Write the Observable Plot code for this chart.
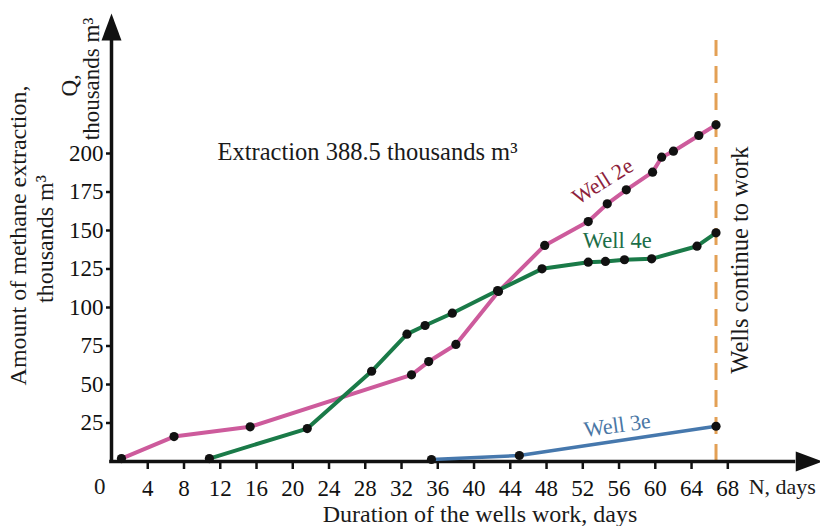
<!DOCTYPE html>
<html>
<head>
<meta charset="utf-8">
<script src="https://cdn.jsdelivr.net/npm/d3@7"></script>
<script src="https://cdn.jsdelivr.net/npm/@observablehq/plot@0.6"></script>
<style>
  html, body { margin: 0; padding: 0; background: white; }
  #chart svg { display: block; }
</style>
</head>
<body>
<div id="chart"></div>
<script>
// ---- data ----
const days2e = [1.1, 6.9, 15.3, 33.1, 35.0, 38.0, 42.7, 47.8, 52.6, 54.7, 56.8, 59.7, 60.7, 62.0, 64.8, 66.7];
const q2e    = [1.9, 16.2, 22.5, 56.3, 64.9, 76.0, 110.4, 140.3, 155.8, 167.3, 176.4, 187.9, 197.6, 201.5, 211.7, 218.6];

const days4e = [10.8, 21.6, 28.7, 32.6, 34.6, 37.6, 42.6, 47.5, 52.6, 54.5, 56.6, 59.6, 64.6, 66.7];
const q4e    = [1.9, 21.4, 58.6, 82.7, 88.3, 96.3, 111.0, 125.1, 129.4, 129.9, 131.0, 131.6, 139.8, 148.5];

const days3e = [35.3, 45.0, 66.7];
const q3e    = [1.3, 3.9, 22.9];

const xTicks = [4, 8, 12, 16, 20, 24, 28, 32, 36, 40, 44, 48, 52, 56, 60, 64, 68];
const yTicks = [25, 50, 75, 100, 125, 150, 175, 200];

const stopDay = 66.7;          // "Wells continue to work" marker
const yAxisTop = 273.4;        // end of the Q axis line (arrow base)
const xAxisEnd = 75.5;         // end of the N axis line (arrow base)

const labels = [
  {text: "Extraction 388.5 thousands m³", x: 11.7, y: 200.9, rotate: 0, size: 24.5, fill: "#1a1a1a", anchor: "start"},
  {text: "Well 2e", x: 54.2, y: 181.8, rotate: -32, size: 22, fill: "#8e1f3c", anchor: "middle"},
  {text: "Well 4e", x: 55.8, y: 143.1, rotate: 0, size: 22.5, fill: "#1c6e48", anchor: "middle"},
  {text: "Well 3e", x: 55.8, y: 23.4, rotate: -8, size: 22, fill: "#4a77a5", anchor: "middle"},
  {text: "Wells continue to work", x: 69.4, y: 130.8, rotate: -90, size: 24.5, fill: "#1a1a1a", anchor: "middle"},
  {text: "N, days", x: 70.3, y: -16.4, rotate: 0, size: 22, fill: "#1a1a1a", anchor: "start"},
  {text: "0", x: -1.3, y: -16.4, rotate: 0, size: 23, fill: "#1a1a1a", anchor: "middle"},
  {text: "Duration of the wells work, days", x: 40.66, y: -34.4, rotate: 0, size: 24, fill: "#1a1a1a", anchor: "middle"},
  {text: "Amount of methane extraction,", x: -10.23, y: 146.8, rotate: -90, size: 24, fill: "#1a1a1a", anchor: "middle"},
  {text: "thousands m³", x: -7.25, y: 144.5, rotate: -90, size: 24, fill: "#1a1a1a", anchor: "middle"},
  {text: "Q,", x: -4.57, y: 244.2, rotate: -90, size: 23, fill: "#1a1a1a", anchor: "middle"},
  {text: "thousands m³", x: -2.22, y: 248.4, rotate: -90, size: 23, fill: "#1a1a1a", anchor: "middle"}
];

// ---- build tables ----
const zip = (xs, ys) => xs.map((d, i) => ({day: d, q: ys[i]}));
const w2e = zip(days2e, q2e);
const w4e = zip(days4e, q4e);
const w3e = zip(days3e, q3e);

const arrowHead = {
  draw(ctx) {
    ctx.moveTo(0, -27);
    ctx.lineTo(10, 0);
    ctx.lineTo(-10, 0);
    ctx.closePath();
  }
};

const ink = "#111";
const dotStyle = {x: "day", y: "q", r: 4.6, fill: ink};

const chart = Plot.plot({
  width: 820,
  height: 526,
  marginLeft: 111,
  marginRight: 92.7,
  marginTop: 153,
  marginBottom: 65,
  x: {domain: [0, 68]},
  y: {domain: [0, 200]},
  style: {fontFamily: '"Liberation Serif", "Times New Roman", serif', color: ink, background: "white"},
  marks: [
    // dashed stop marker
    Plot.ruleX([stopDay], {y1: 0, y2: yAxisTop, stroke: "#e3a055", strokeWidth: 3, strokeDasharray: "17,10"}),
    // axis lines with arrow heads
    Plot.ruleX([0], {y1: -1, y2: yAxisTop, stroke: ink, strokeWidth: 3.5}),
    Plot.ruleY([0], {x1: -0.2, x2: xAxisEnd, stroke: ink, strokeWidth: 3.5}),
    Plot.dot([{day: 0, q: yAxisTop}], {x: "day", y: "q", symbol: arrowHead, r: 5, fill: ink, stroke: "none"}),
    Plot.dot([{day: xAxisEnd, q: 0}], {x: "day", y: "q", symbol: arrowHead, r: 5, fill: ink, stroke: "none", rotate: 90}),
    // axes
    Plot.axisY(yTicks, {tickSize: 5, tickPadding: 3, fontSize: 23, label: null, strokeWidth: 2.5}),
    Plot.axisX(xTicks, {tickSize: 8, tickPadding: 10, fontSize: 23, label: null, strokeWidth: 2.5}),
    // series
    Plot.line(w2e, {x: "day", y: "q", stroke: "#cd5b9c", strokeWidth: 4, strokeLinejoin: "round"}),
    Plot.line(w4e, {x: "day", y: "q", stroke: "#1a7a48", strokeWidth: 4, strokeLinejoin: "round"}),
    Plot.line(w3e, {x: "day", y: "q", stroke: "#4678ad", strokeWidth: 3.5, strokeLinejoin: "round"}),
    Plot.dot(w2e, dotStyle),
    Plot.dot(w4e, dotStyle),
    Plot.dot(w3e, dotStyle),
    // annotations
    ...labels.map(l => Plot.text([l], {
      x: "x", y: "y", text: "text", rotate: l.rotate, fontSize: l.size,
      fill: l.fill, textAnchor: l.anchor, lineAnchor: "middle"
    }))
  ]
});
document.getElementById("chart").appendChild(chart);
</script>
</body>
</html>
